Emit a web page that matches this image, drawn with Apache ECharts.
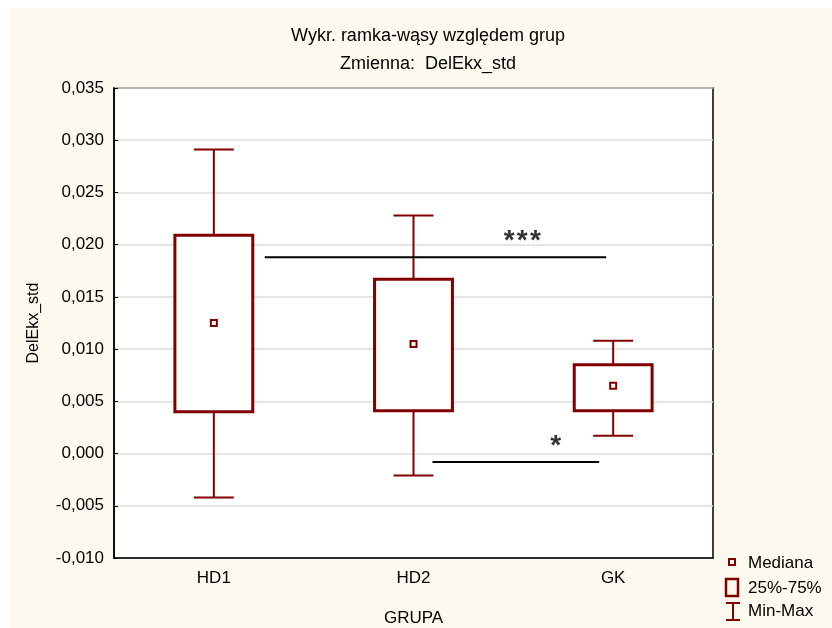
<!DOCTYPE html>
<html>
<head>
<meta charset="utf-8">
<script src="https://cdn.jsdelivr.net/npm/echarts@6/dist/echarts.min.js"></script>
<style>
html, body { margin: 0; padding: 0; }
#container { width: 832px; height: 628px; }
</style>
</head>
<body>
<div id="container"></div>
<script>
// groups and box-whisker stats
const groups = ['HD1', 'HD2', 'GK'];
const mins = [-0.0042, -0.0021, 0.0017];
const q1s = [0.0040, 0.0041, 0.0041];
const medians = [0.0125, 0.0105, 0.0065];
const q3s = [0.0209, 0.0167, 0.0085];
const maxs = [0.0291, 0.0228, 0.0108];

// significance brackets: [from, to, level, mark]
const sigFrom = [0.255, 1.095];
const sigTo = [1.965, 1.93];
const sigLevel = [0.0188, -0.0008];
const sigMarks = ['***', '*'];

const RED = '#800000';
const FONT = 'Liberation Sans';
const fmt = v => v.toFixed(3).replace('.', ',');

const boxData = groups.map((g, i) => [i, mins[i], q1s[i], medians[i], q3s[i], maxs[i]]);

function renderWhisker(params, api) {
    const i = api.value(0);
    const x = api.coord([i, 0])[0];
    const band = api.size([1, 0])[0];
    const cap = band * 0.1;
    const bw = band * 0.195;
    const yMin = api.coord([i, api.value(1)])[1];
    const yQ1 = api.coord([i, api.value(2)])[1];
    const yQ3 = api.coord([i, api.value(4)])[1];
    const yMax = api.coord([i, api.value(5)])[1];
    const st = { stroke: RED, lineWidth: 2, fill: null };
    return {
        type: 'group',
        children: [
            { type: 'line', shape: { x1: x, y1: yMax, x2: x, y2: yQ3 }, style: st },
            { type: 'line', shape: { x1: x, y1: yQ1, x2: x, y2: yMin }, style: st },
            { type: 'line', shape: { x1: x - cap, y1: yMax, x2: x + cap, y2: yMax }, style: st },
            { type: 'line', shape: { x1: x - cap, y1: yMin, x2: x + cap, y2: yMin }, style: st },
            { type: 'rect', shape: { x: x - bw, y: yQ3, width: bw * 2, height: yQ1 - yQ3 },
              style: { stroke: RED, lineWidth: 3, fill: '#fff' } },
            { type: 'rect', shape: { x: x - 3, y: api.coord([i, api.value(3)])[1] - 3, width: 6, height: 6 },
              style: { stroke: RED, lineWidth: 2, fill: '#fff' } }
        ]
    };
}

const sigSeries = [];
sigFrom.forEach((f, k) => {
    sigSeries.push({
        type: 'line',
        xAxisIndex: 1,
        data: [[f, sigLevel[k]], [sigTo[k], sigLevel[k]]],
        symbol: 'none',
        lineStyle: { color: '#000', width: 2 },
        z: 5,
        silent: true
    });
});
const sigText = {
    type: 'scatter',
    xAxisIndex: 1,
    symbolSize: 1,
    itemStyle: { color: 'transparent' },
    data: [
        { name: sigMarks[0], value: [(sigFrom[0] + sigTo[0]) / 2 + 0.435, sigLevel[0] + 0.0015] },
        { name: sigMarks[1], value: [(sigFrom[1] + sigTo[1]) / 2 + 0.2, sigLevel[1] + 0.0015] }
    ],
    label: {
        show: true,
        position: 'inside',
        // spaced out like the original
        formatter: p => p.name.split('').join('\u200A'),
        color: '#000',
        fontSize: 28,
        fontWeight: 'bold',
        fontFamily: FONT
    },
    z: 6,
    silent: true
};

const legendText = (t, y) => ({
    type: 'text', x: 748, y: y,
    style: { text: t, fontSize: 17, fontFamily: FONT, fill: '#000', verticalAlign: 'middle' }
});

const myChart = echarts.init(document.getElementById('container'));
const option = {
    backgroundColor: '#fdf9ee',
    animation: false,
    textStyle: { fontFamily: FONT },
    title: {
        text: 'Wykr. ramka-wąsy względem grup',
        subtext: 'Zmienna:  DelEkx_std',
        left: 423,
        textAlign: 'center',
        top: 22,
        itemGap: 10,
        textStyle: { fontSize: 18, fontWeight: 'normal', color: '#000' },
        subtextStyle: { fontSize: 18, color: '#000' }
    },
    grid: {
        left: 114, right: 119, top: 88, bottom: 70,
        outerBoundsMode: 'none',
        show: true,
        backgroundColor: '#fff',
        borderColor: '#000',
        borderWidth: 1.5
    },
    xAxis: [
        {
            type: 'category',
            data: groups,
            name: 'GRUPA',
            nameLocation: 'middle',
            nameGap: 52,
            nameTextStyle: { fontSize: 17, color: '#000' },
            axisLine: { onZero: false, lineStyle: { color: '#000', width: 1.5 } },
            axisTick: { inside: true, alignWithLabel: true, length: 4, lineStyle: { color: '#000' } },
            axisLabel: { fontSize: 17, color: '#000', margin: 12 },
            splitLine: { show: false }
        },
        { type: 'value', min: -0.5, max: 2.5, show: false }
    ],
    yAxis: {
        type: 'value',
        min: -0.010,
        max: 0.035,
        interval: 0.005,
        name: 'DelEkx_std',
        nameLocation: 'middle',
        nameGap: 72,
        nameTextStyle: { fontSize: 16, color: '#000' },
        axisLine: { show: true, onZero: false, lineStyle: { color: '#000', width: 1.5 } },
        axisTick: { show: true, inside: true, length: 4, lineStyle: { color: '#000' } },
        axisLabel: { fontSize: 17, color: '#000', margin: 10, formatter: fmt },
        splitLine: { show: true, lineStyle: { color: '#dcdcdc', width: 1.5 } }
    },
    graphic: [
        { type: 'rect', shape: { x: 0, y: 0, width: 832, height: 8 }, style: { fill: '#fff' } },
        { type: 'rect', shape: { x: 0, y: 0, width: 10, height: 628 }, style: { fill: '#fff' } },
        // legend
        { type: 'rect', shape: { x: 729, y: 559, width: 6, height: 6 }, style: { stroke: RED, lineWidth: 2, fill: 'none' } },
        legendText('Mediana', 563),
        { type: 'rect', shape: { x: 726, y: 579, width: 12, height: 17 }, style: { stroke: RED, lineWidth: 2.5, fill: 'none' } },
        legendText('25%-75%', 588),
        { type: 'polyline', shape: { points: [[726, 603], [740, 603]] }, style: { stroke: RED, lineWidth: 2 } },
        { type: 'polyline', shape: { points: [[733, 603], [733, 620]] }, style: { stroke: RED, lineWidth: 2 } },
        { type: 'polyline', shape: { points: [[726, 620], [740, 620]] }, style: { stroke: RED, lineWidth: 2 } },
        legendText('Min-Max', 611)
    ],
    series: [
        {
            type: 'custom',
            name: 'box',
            renderItem: renderWhisker,
            data: boxData,
            encode: { x: 0, y: [1, 2, 3, 4, 5] },
            z: 3
        },
        ...sigSeries,
        sigText
    ]
};
myChart.setOption(option);
</script>
</body>
</html>
